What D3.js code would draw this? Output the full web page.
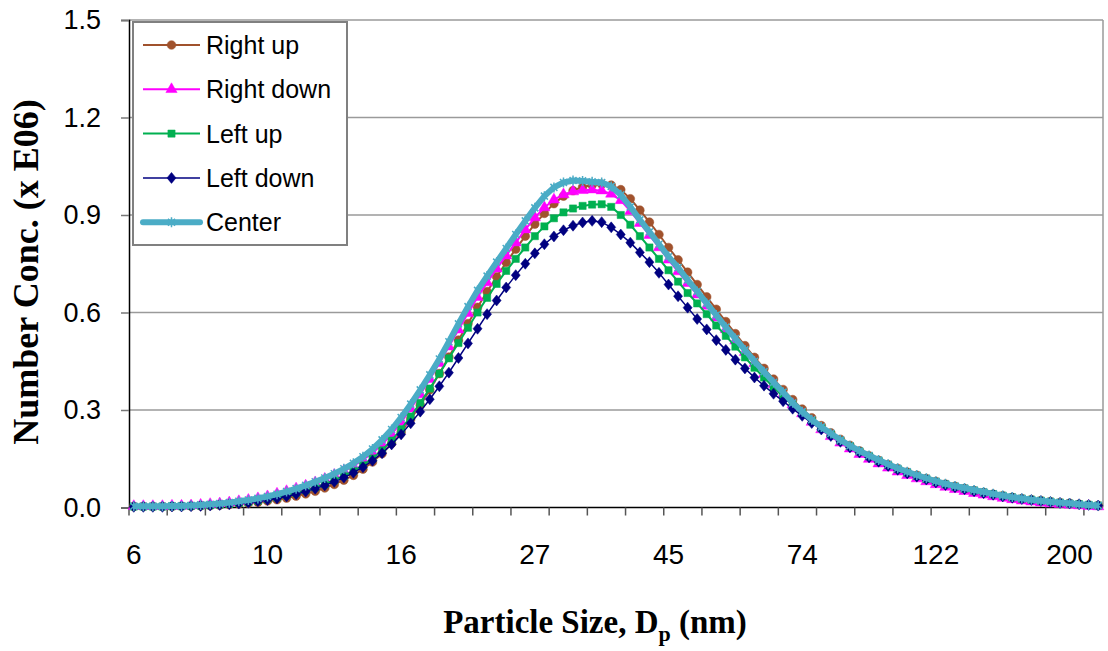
<!DOCTYPE html>
<html>
<head>
<meta charset="utf-8">
<script src="https://cdn.jsdelivr.net/npm/d3@7"></script>
<style>
  body { margin: 0; background: #fff; }
  svg { display: block; }
</style>
</head>
<body>
<div id="container"></div>
<script>
// particle diameters (nm), one per SMPS channel
const sizes = [
  6.00, 6.22, 6.45, 6.68, 6.93, 7.18, 7.44, 7.72, 8.00, 8.29,
  8.60, 8.91, 9.24, 9.58, 9.93, 10.29, 10.67, 11.06, 11.46, 11.88,
  12.32, 12.77, 13.24, 13.72, 14.23, 14.75, 15.29, 15.85, 16.43, 17.03,
  17.65, 18.30, 18.97, 19.67, 20.39, 21.13, 21.91, 22.71, 23.54, 24.40,
  25.30, 26.22, 27.18, 28.18, 29.21, 30.28, 31.39, 32.54, 33.73, 34.97,
  36.25, 37.58, 38.96, 40.38, 41.86, 43.40, 44.99, 46.64, 48.34, 50.12,
  51.95, 53.86, 55.83, 57.88, 60.00, 62.20, 64.48, 66.84, 69.29, 71.83,
  74.46, 77.19, 80.02, 82.95, 85.99, 89.14, 92.41, 95.80, 99.31, 102.95,
  106.72, 110.63, 114.69, 118.50, 122.20, 126.60, 131.00, 135.70, 140.60, 145.60,
  150.80, 156.20, 161.80, 167.60, 173.60, 179.80, 186.30, 193.00, 199.90, 207.20,
  214.80, 222.60
];

const rightUp = [
  0.003, 0.003, 0.003, 0.003, 0.003, 0.004, 0.004, 0.005, 0.006, 0.007,
  0.009, 0.011, 0.013, 0.016, 0.020, 0.024, 0.029, 0.035, 0.042, 0.050,
  0.060, 0.071, 0.084, 0.099, 0.118, 0.140, 0.166, 0.197, 0.232, 0.272,
  0.315, 0.362, 0.412, 0.463, 0.515, 0.566, 0.616, 0.664, 0.710, 0.754,
  0.795, 0.835, 0.872, 0.905, 0.935, 0.958, 0.975, 0.986, 0.992, 0.995,
  0.992, 0.978, 0.950, 0.915, 0.878, 0.840, 0.800, 0.762, 0.724, 0.686,
  0.648, 0.610, 0.572, 0.535, 0.498, 0.462, 0.428, 0.395, 0.363, 0.332,
  0.303, 0.276, 0.252, 0.230, 0.210, 0.191, 0.174, 0.159, 0.145, 0.132,
  0.120, 0.109, 0.099, 0.089, 0.080, 0.072, 0.065, 0.058, 0.052, 0.046,
  0.041, 0.036, 0.031, 0.027, 0.024, 0.021, 0.018, 0.015, 0.013, 0.010,
  0.008, 0.006
];

const rightDown = [
  0.004, 0.004, 0.004, 0.004, 0.005, 0.005, 0.006, 0.008, 0.010, 0.012,
  0.015, 0.019, 0.023, 0.028, 0.034, 0.042, 0.050, 0.058, 0.067, 0.077,
  0.088, 0.100, 0.113, 0.128, 0.146, 0.168, 0.194, 0.225, 0.262, 0.304,
  0.348, 0.395, 0.444, 0.495, 0.547, 0.598, 0.647, 0.692, 0.735, 0.775,
  0.815, 0.855, 0.892, 0.923, 0.947, 0.963, 0.972, 0.976, 0.978, 0.975,
  0.965, 0.945, 0.912, 0.875, 0.838, 0.800, 0.762, 0.726, 0.690, 0.655,
  0.620, 0.584, 0.548, 0.513, 0.478, 0.444, 0.411, 0.379, 0.348, 0.317,
  0.289, 0.263, 0.240, 0.219, 0.199, 0.181, 0.164, 0.149, 0.135, 0.122,
  0.110, 0.099, 0.089, 0.080, 0.071, 0.063, 0.056, 0.050, 0.044, 0.039,
  0.034, 0.029, 0.025, 0.021, 0.018, 0.015, 0.012, 0.010, 0.008, 0.006,
  0.004, 0.003
];

const leftUp = [
  0.003, 0.003, 0.003, 0.003, 0.004, 0.004, 0.005, 0.006, 0.007, 0.009,
  0.011, 0.014, 0.017, 0.021, 0.026, 0.031, 0.038, 0.045, 0.053, 0.062,
  0.072, 0.084, 0.097, 0.112, 0.130, 0.151, 0.176, 0.206, 0.241, 0.280,
  0.322, 0.366, 0.412, 0.459, 0.506, 0.553, 0.600, 0.645, 0.688, 0.728,
  0.765, 0.800, 0.835, 0.865, 0.890, 0.908, 0.920, 0.928, 0.932, 0.933,
  0.925, 0.900, 0.870, 0.835, 0.800, 0.765, 0.730, 0.695, 0.660, 0.628,
  0.595, 0.560, 0.528, 0.495, 0.462, 0.430, 0.400, 0.370, 0.342, 0.315,
  0.290, 0.266, 0.244, 0.224, 0.205, 0.188, 0.172, 0.157, 0.143, 0.130,
  0.118, 0.107, 0.097, 0.088, 0.079, 0.071, 0.064, 0.058, 0.052, 0.046,
  0.041, 0.036, 0.031, 0.027, 0.024, 0.021, 0.018, 0.015, 0.012, 0.010,
  0.008, 0.006
];

const leftDown = [
  0.002, 0.002, 0.002, 0.002, 0.003, 0.003, 0.004, 0.005, 0.006, 0.008,
  0.010, 0.012, 0.015, 0.019, 0.023, 0.028, 0.034, 0.041, 0.049, 0.058,
  0.068, 0.079, 0.092, 0.107, 0.124, 0.144, 0.167, 0.194, 0.225, 0.259,
  0.295, 0.333, 0.373, 0.415, 0.460, 0.505, 0.550, 0.595, 0.637, 0.677,
  0.715, 0.750, 0.782, 0.810, 0.834, 0.853, 0.867, 0.877, 0.882, 0.878,
  0.862, 0.840, 0.815, 0.785, 0.755, 0.722, 0.686, 0.650, 0.615, 0.580,
  0.548, 0.515, 0.485, 0.455, 0.428, 0.400, 0.375, 0.350, 0.327, 0.304,
  0.282, 0.260, 0.240, 0.220, 0.202, 0.185, 0.169, 0.154, 0.141, 0.128,
  0.116, 0.105, 0.095, 0.086, 0.077, 0.069, 0.062, 0.056, 0.050, 0.044,
  0.039, 0.034, 0.030, 0.026, 0.023, 0.020, 0.017, 0.014, 0.012, 0.010,
  0.008, 0.006
];

const center = [
  0.004, 0.004, 0.004, 0.004, 0.005, 0.005, 0.006, 0.008, 0.010, 0.012,
  0.015, 0.019, 0.023, 0.028, 0.034, 0.041, 0.049, 0.058, 0.068, 0.079,
  0.091, 0.104, 0.119, 0.136, 0.156, 0.180, 0.208, 0.240, 0.277, 0.318,
  0.362, 0.408, 0.457, 0.510, 0.565, 0.618, 0.668, 0.712, 0.755, 0.797,
  0.840, 0.882, 0.922, 0.958, 0.985, 1.000, 1.006, 1.005, 1.002, 1.000,
  0.988, 0.962, 0.925, 0.885, 0.848, 0.810, 0.772, 0.738, 0.700, 0.665,
  0.628, 0.592, 0.555, 0.520, 0.485, 0.450, 0.418, 0.385, 0.355, 0.322,
  0.295, 0.270, 0.248, 0.228, 0.208, 0.190, 0.174, 0.160, 0.146, 0.133,
  0.121, 0.110, 0.100, 0.090, 0.081, 0.073, 0.066, 0.060, 0.054, 0.048,
  0.042, 0.037, 0.032, 0.028, 0.024, 0.021, 0.018, 0.015, 0.013, 0.010,
  0.008, 0.006
];

const seriesNames = ["Right up", "Right down", "Left up", "Left down", "Center"];
const seriesValues = [rightUp, rightDown, leftUp, leftDown, center];
const yTicks = [0, 0.3, 0.6, 0.9, 1.2, 1.5];

// look of each series (line colour, width, marker)
const styles = [
  { color: "#A0522D", width: 2, marker: "circle" },
  { color: "#FF00FF", width: 2, marker: "triangle" },
  { color: "#00B050", width: 2, marker: "square" },
  { color: "#000080", width: 1.5, marker: "diamond" },
  { color: "#4BACC6", width: 6, marker: "star" }
];

const width = 1108;
const height = 651;
const plot = { left: 129, right: 1103, top: 20, bottom: 507.5 };

const svg = d3.select("#container")
  .append("svg")
  .attr("width", width)
  .attr("height", height);

const x = d3.scaleBand()
  .domain(d3.range(sizes.length))
  .range([plot.left, plot.right]);

const y = d3.scaleLinear()
  .domain([0, 1.5])
  .range([plot.bottom, plot.top]);

const cx = i => x(i) + x.bandwidth() / 2;

// gridlines
svg.append("g")
  .selectAll("line")
  .data(yTicks.filter(d => d > 0))
  .join("line")
    .attr("x1", plot.left)
    .attr("x2", plot.right)
    .attr("y1", d => y(d))
    .attr("y2", d => y(d))
    .style("stroke", "#9a9a9a")
    .style("stroke-width", 1.5);

// right border of plot area
svg.append("line")
  .attr("x1", plot.right).attr("x2", plot.right)
  .attr("y1", plot.top).attr("y2", plot.bottom)
  .style("stroke", "#9a9a9a")
  .style("stroke-width", 1.5);

// y axis
const yAxis = svg.append("g")
  .attr("transform", `translate(${plot.left},0)`)
  .call(d3.axisLeft(y).tickValues(yTicks).tickFormat(d3.format(".1f")).tickSize(8).tickPadding(20));
yAxis.select(".domain").style("stroke", "#000").style("stroke-width", 1.5);
yAxis.selectAll(".tick line").style("stroke", "#777").style("stroke-width", 1.5);
yAxis.selectAll("text")
  .style("font-family", "Liberation Sans, Arial, sans-serif")
  .style("font-size", "27px")
  .style("fill", "#000");

// x axis: ticks every 4 channels at bin edges, labels every 14 channels
const edges = d3.range(0, sizes.length + 1, 4);
svg.append("line")
  .attr("x1", plot.left).attr("x2", plot.right)
  .attr("y1", plot.bottom).attr("y2", plot.bottom)
  .style("stroke", "#000")
  .style("stroke-width", 1.5);
svg.append("g")
  .selectAll("line")
  .data(edges)
  .join("line")
    .attr("x1", d => plot.left + d * x.step())
    .attr("x2", d => plot.left + d * x.step())
    .attr("y1", plot.bottom)
    .attr("y2", plot.bottom + 8)
    .style("stroke", "#555")
    .style("stroke-width", 1.5);

const labelIdx = d3.range(0, sizes.length, 14);
svg.append("g")
  .selectAll("text")
  .data(labelIdx)
  .join("text")
    .attr("x", d => cx(d))
    .attr("y", 564)
    .attr("text-anchor", "middle")
    .style("font-family", "Liberation Sans, Arial, sans-serif")
    .style("font-size", "28px")
    .text(d => d3.format(".0f")(sizes[d]));

// markers
function markerPath(type) {
  if (type === "circle") return d3.symbol(d3.symbolCircle, 60)();
  if (type === "triangle") return d3.symbol(d3.symbolTriangle, 55)();
  if (type === "square") return d3.symbol(d3.symbolSquare, 52)();
  if (type === "diamond") return "M0,-5.5L4.5,0L0,5.5L-4.5,0Z";
  return "M-3.5,-3.5L3.5,3.5M-3.5,3.5L3.5,-3.5M0,-5L0,5";
}

const line = d3.line()
  .x((d, i) => cx(i))
  .y(d => y(d));

seriesValues.forEach((vals, s) => {
  const st = styles[s];
  const g = svg.append("g");
  g.append("path")
    .datum(vals)
    .attr("d", line)
    .style("fill", "none")
    .style("stroke", st.color)
    .style("stroke-width", st.width)
    .style("stroke-linejoin", "round");
  g.selectAll("path.m")
    .data(vals)
    .join("path")
      .attr("class", "m")
      .attr("transform", (d, i) => `translate(${cx(i)},${y(d)})`)
      .attr("d", markerPath(st.marker))
      .style("fill", st.marker === "star" ? "none" : st.color)
      .style("stroke", st.color)
      .style("stroke-width", st.marker === "star" ? 1.5 : 0.5);
});

// legend
const legend = svg.append("g");
legend.append("rect")
  .attr("x", 133).attr("y", 22)
  .attr("width", 214).attr("height", 223)
  .style("fill", "#fff")
  .style("stroke", "#808080")
  .style("stroke-width", 2);

seriesNames.forEach((name, s) => {
  const st = styles[s];
  const ly = 45 + s * 44.3;
  legend.append("line")
    .attr("x1", 143).attr("x2", 200)
    .attr("y1", ly).attr("y2", ly)
    .style("stroke", st.color)
    .style("stroke-width", st.width)
    .style("stroke-linecap", st.marker === "star" ? "round" : "butt");
  legend.append("path")
    .attr("transform", `translate(171.5,${ly})`)
    .attr("d", markerPath(st.marker))
    .style("fill", st.marker === "star" ? "none" : st.color)
    .style("stroke", st.color)
    .style("stroke-width", st.marker === "star" ? 1.5 : 0.5);
  legend.append("text")
    .attr("x", 206)
    .attr("y", ly + 9)
    .style("font-family", "Liberation Sans, Arial, sans-serif")
    .style("font-size", "25px")
    .text(name);
});

// axis titles
const xTitle = svg.append("text")
  .attr("x", 595)
  .attr("y", 633)
  .attr("text-anchor", "middle")
  .style("font-family", "Liberation Serif, Times New Roman, serif")
  .style("font-weight", "bold")
  .style("font-size", "33px");
xTitle.append("tspan").text("Particle Size, D");
xTitle.append("tspan").attr("dy", 8).style("font-size", "22px").text("p");
xTitle.append("tspan").attr("dy", -8).text(" (nm)");

svg.append("text")
  .attr("transform", "translate(38,272) rotate(-90)")
  .attr("text-anchor", "middle")
  .style("font-family", "Liberation Serif, Times New Roman, serif")
  .style("font-weight", "bold")
  .style("font-size", "36px")
  .text("Number Conc. (x E06)");
</script>
</body>
</html>
